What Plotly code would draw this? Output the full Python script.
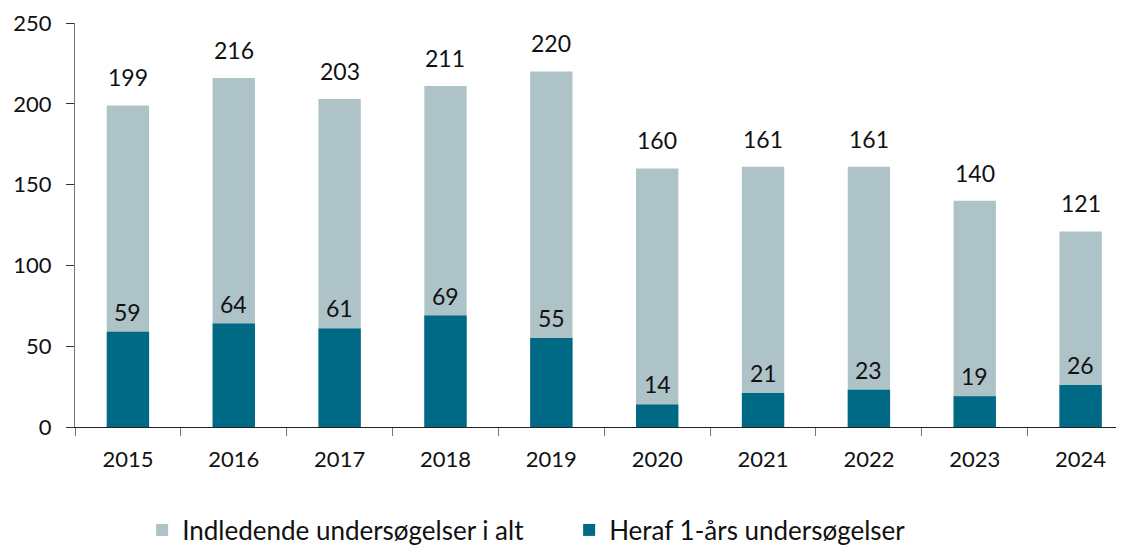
import plotly.graph_objects as go

years = ["2015", "2016", "2017", "2018", "2019", "2020", "2021", "2022", "2023", "2024"]
total = [199, 216, 203, 211, 220, 160, 161, 161, 140, 121]
one_year = [59, 64, 61, 69, 55, 14, 21, 23, 19, 26]
y_ticks = [0, 50, 100, 150, 200, 250]

FONT = "Source Sans Pro, Lato, Noto Sans, sans-serif"
LIGHT = "#adc3c8"
DARK = "#006985"

fig = go.Figure()
fig.add_trace(go.Bar(x=years, y=total, name="Indledende undersøgelser i alt",
                     marker=dict(color=LIGHT, line=dict(width=0)), width=0.4))
fig.add_trace(go.Bar(x=years, y=one_year, name="Heraf 1-års undersøgelser",
                     marker=dict(color=DARK, line=dict(width=0)), width=0.4))

for i, v in enumerate(total):
    fig.add_annotation(x=i, y=v, text=str(v), showarrow=False, yanchor="bottom",
                       yshift=12, font=dict(size=23, color="#111111", family=FONT))
for i, v in enumerate(one_year):
    fig.add_annotation(x=i, y=v, text=str(v), showarrow=False, yanchor="bottom",
                       yshift=4, font=dict(size=23, color="#111111", family=FONT))

fig.update_layout(
    width=1116, height=537,
    barmode="overlay",
    plot_bgcolor="white", paper_bgcolor="white",
    margin=dict(l=67, r=0, t=15, b=118, autoexpand=False),
    font=dict(family=FONT, size=22, color="#111111"),
    showlegend=True,
    legend=dict(orientation="h", x=0.064, xanchor="left", y=-0.255, yanchor="middle",
                font=dict(size=26, family=FONT), itemwidth=30, tracegroupgap=0,
                entrywidth=382),
    xaxis=dict(type="category", range=[-0.5, 9.41], showline=True, linecolor="#222222",
               linewidth=1.2, ticks="outside", tickson="boundaries", ticklen=8,
               tickcolor="#777777", tickfont=dict(size=22), showgrid=False, tickangle=0,
               ticklabelstandoff=12),
    yaxis=dict(range=[0, 250], tickvals=y_ticks, showline=True, linecolor="#777777",
               linewidth=1.2, ticks="outside", ticklen=8, tickcolor="#333333",
               tickfont=dict(size=22), showgrid=False, zeroline=False,
               ticklabelstandoff=10),
)

fig.write_html("out.html")
